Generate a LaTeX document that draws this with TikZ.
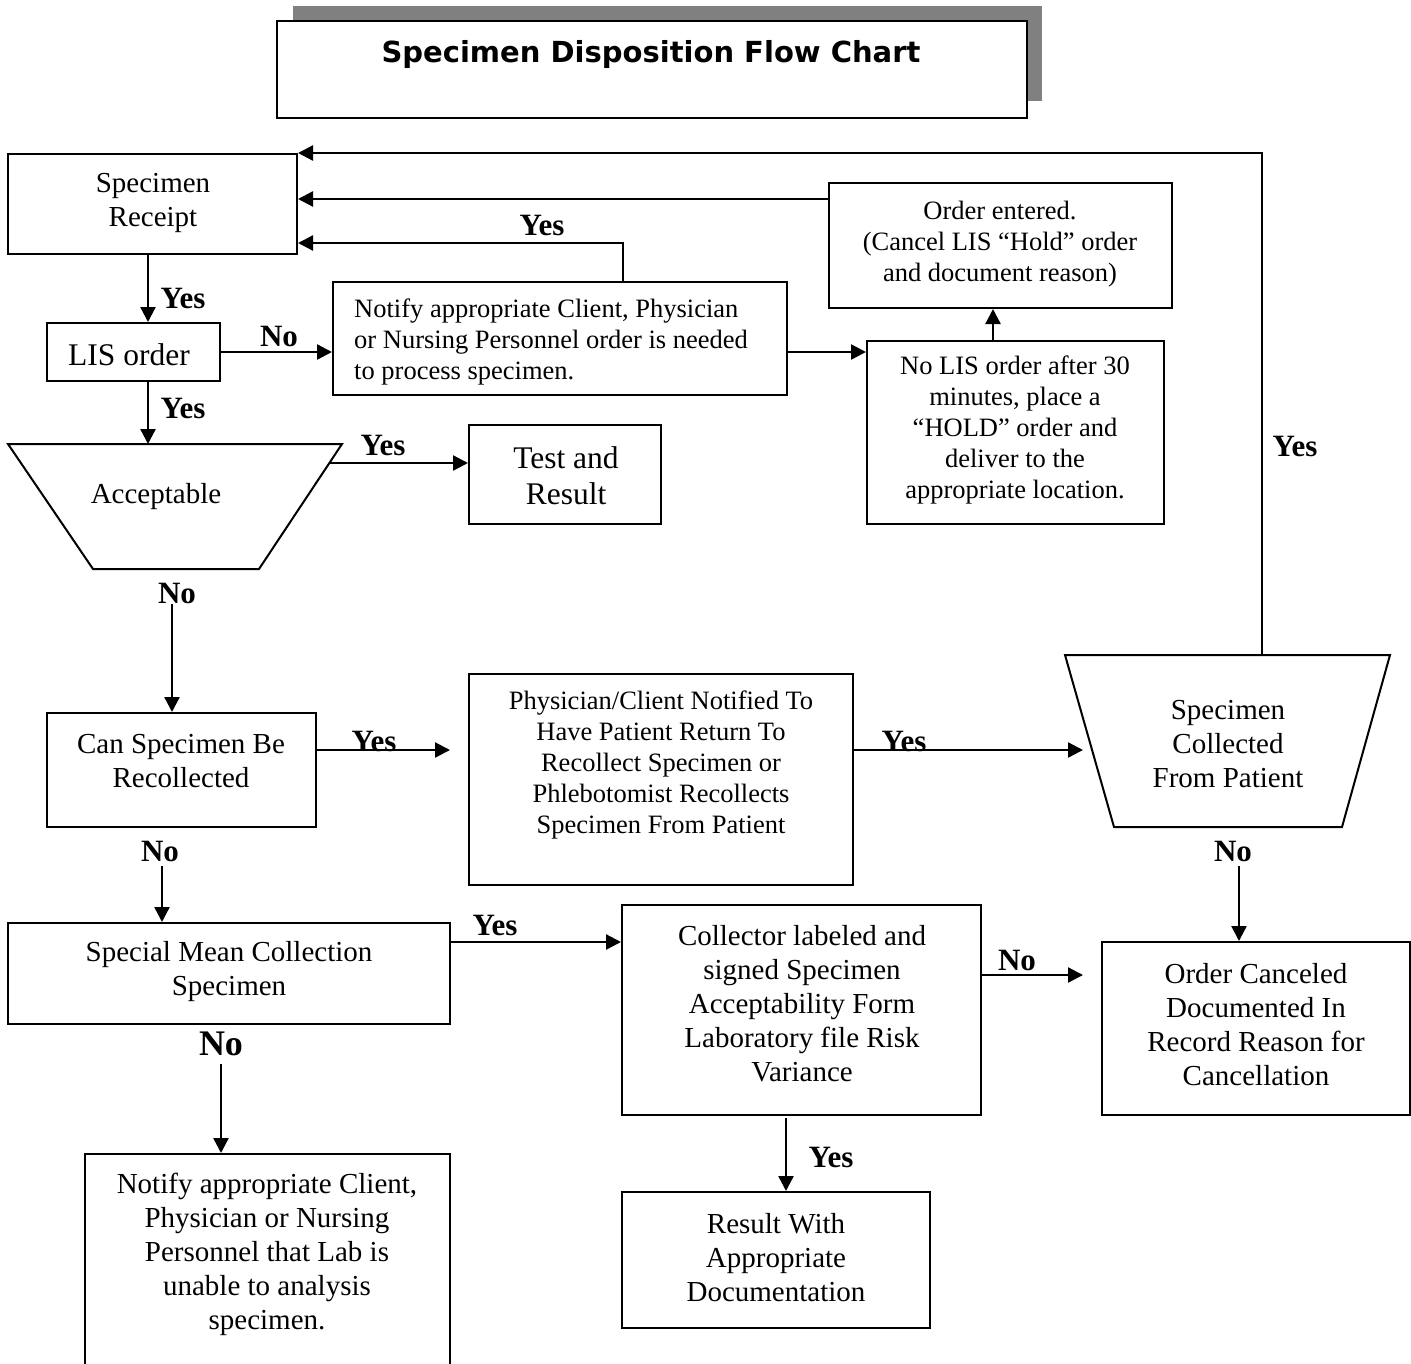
\documentclass[tikz,border=0pt]{standalone}
\usepackage{fontspec}
\setmainfont{Liberation Serif}
\newfontfamily\titlefam{DejaVu Sans}
\usetikzlibrary{arrows.meta}
\newcommand\fszA{\fontsize{26.5}{31}\selectfont}
\newcommand\fszB{\fontsize{29}{34}\selectfont}
\newcommand\fszC{\fontsize{31.5}{36}\selectfont}
\newcommand\fszL{\fontsize{31}{36}\selectfont}
\newcommand\fszLL{\fontsize{36}{40}\selectfont}
\definecolor{shadowgray}{RGB}{128,128,128}
\begin{document}
\begin{tikzpicture}[x=1pt,y=-1pt,
  box/.style={draw, line width=2pt, inner sep=0pt},
  txt/.style={inner sep=0pt, align=center, font=\fszB, yshift=-3pt},
  conn/.style={line width=2.3pt, -{Triangle[length=15pt,width=15pt]}},
  lbl/.style={inner sep=0pt, font=\fszL\bfseries},
  trap/.style={draw, line width=2pt, line join=miter}]
\useasboundingbox (0,0) rectangle (1411,1363);
% helper coordinates
\coordinate (x148) at (148,0);
\coordinate (x172) at (172,0);
\coordinate (x162) at (162,0);
\coordinate (x221) at (221,0);
\coordinate (x623) at (623,0);
\coordinate (x786) at (786,0);
\coordinate (x993) at (993,0);
\coordinate (x1239) at (1239,0);
\coordinate (y199) at (0,199);
\coordinate (y243) at (0,243);
\coordinate (y352) at (0,352);
\coordinate (y750) at (0,750);
\coordinate (y942) at (0,942);
\coordinate (y975) at (0,975);

% title
\fill[shadowgray] (293,6) rectangle (1042,101);
\node[box, fill=white, minimum width=750, minimum height=97] (title) at (652,69.5) {};
\node[inner sep=0pt, font=\titlefam\bfseries\fontsize{29}{34}\selectfont] (title-t) at (651,54) {Specimen Disposition Flow Chart};

% boxes
\node[box, minimum width=289, minimum height=100] (rec) at (152.5,204) {};
\node[txt] (rec-t) at (153,200) {Specimen\\Receipt};

\node[box, minimum width=173, minimum height=58] (lis) at (133.5,352) {};
\node[txt, font=\fszC] (lis-t) at (129,352) {LIS order};

\node[box, minimum width=454, minimum height=113] (ntf) at (560,338.5) {};
\node[txt, font=\fszA, align=left, anchor=west] (ntf-t) at (354,339) {Notify appropriate Client, Physician\\or Nursing Personnel order is needed\\to process specimen.};

\node[box, minimum width=297, minimum height=183] (nol) at (1015.5,432.5) {};
\node[txt, font=\fszA] (nol-t) at (1015,427) {No LIS order after 30\\minutes, place a\\``HOLD'' order and\\deliver to the\\appropriate location.};

\node[box, minimum width=343, minimum height=125] (ord) at (1000.5,245.5) {};
\node[txt, font=\fszA] (ord-t) at (1000,241) {Order entered.\\(Cancel LIS ``Hold'' order\\and document reason)};

\node[box, minimum width=192, minimum height=99] (tr) at (565,474.5) {};
\node[txt, font=\fszC] (tr-t) at (566,473) {Test and\\Result};

% Acceptable trapezoid
\coordinate (acc-tl) at (8,444);
\coordinate (acc-tr) at (342,444);
\coordinate (acc-br) at (259,569);
\coordinate (acc-bl) at (93,569);
\coordinate (acc-r) at (329.4,463);
\draw[trap] (acc-tl) -- (acc-tr) -- (acc-br) -- (acc-bl) -- cycle;
\node[txt] (acc) at (156,494) {Acceptable};

\node[box, minimum width=269, minimum height=114] (can) at (181.5,770) {};
\node[txt] (can-t) at (181,758) {Can Specimen Be\\Recollected};

\node[box, minimum width=384, minimum height=211] (phy) at (661,779.5) {};
\node[txt, font=\fszA] (phy-t) at (661,762) {Physician/Client Notified To\\Have Patient Return To\\Recollect Specimen or\\Phlebotomist Recollects\\Specimen From Patient};

% Specimen Collected trapezoid
\coordinate (col-tl) at (1065,655);
\coordinate (col-tr) at (1390,655);
\coordinate (col-br) at (1342,827);
\coordinate (col-bl) at (1114,827);
\coordinate (colltop) at (1262,655);
\draw[trap] (col-tl) -- (col-tr) -- (col-br) -- (col-bl) -- cycle;
\node[txt] (coll) at (1228,741) {Specimen\\Collected\\From Patient};

\node[box, minimum width=308, minimum height=173] (oc) at (1256,1028.5) {};
\node[txt] (oc-t) at (1256,1022) {Order Canceled\\Documented In\\Record Reason for\\Cancellation};

\node[box, minimum width=442, minimum height=101] (sp) at (229,973.5) {};
\node[txt] (sp-t) at (229,969) {Special Mean Collection\\Specimen};

\node[box, minimum width=359, minimum height=210] (col) at (801.5,1010) {};
\node[txt] (col-t) at (802,1001) {Collector labeled and\\signed Specimen\\Acceptability Form\\Laboratory file Risk\\Variance};

\node[box, minimum width=308, minimum height=136] (res) at (776,1260) {};
\node[txt] (res-t) at (776,1255) {Result With\\Appropriate\\Documentation};

\node[box, minimum width=365, minimum height=240] (nu) at (267.5,1274) {};
\node[txt] (nu-t) at (267,1251) {Notify appropriate Client,\\Physician or Nursing\\Personnel that Lab is\\unable to analysis\\specimen.};

% connectors
\draw[conn] (colltop) |- (rec.north east);
\draw[conn] (ord.west |- y199) -- (rec.east |- y199);
\draw[conn] (ntf.north -| x623) |- (rec.east |- y243);
\draw[conn] (rec.south -| x148) -- (lis.north -| x148);
\draw[conn] (lis.east) -- (lis.east -| ntf.west);
\draw[conn] (ntf.east |- y352) -- (nol.west |- y352);
\draw[conn] (nol.north -| x993) -- (ord.south -| x993);
\draw[conn] (lis.south -| x148) -- (acc-tl -| x148);
\draw[conn] (acc-r) -- (acc-r -| tr.west);
\coordinate (accno) at (172,604);
\draw[conn] (accno) -- (can.north -| x172);
\coordinate (canend) at (450,750);
\draw[conn] (can.east |- y750) -- (canend);
\coordinate (phyend) at (1083,750);
\draw[conn] (phy.east |- y750) -- (phyend);
\coordinate (collno) at (1239,866);
\draw[conn] (collno) -- (oc.north -| x1239);
\coordinate (canno) at (162,866);
\draw[conn] (canno) -- (sp.north -| x162);
\draw[conn] (sp.east |- y942) -- (col.west |- y942);
\coordinate (colend) at (1083,975);
\draw[conn] (col.east |- y975) -- (colend);
\coordinate (colbot) at (786,1118);
\draw[conn] (colbot) -- (res.north -| x786);
\coordinate (spno) at (221,1064);
\draw[conn] (spno) -- (nu.north -| x221);

% labels
\node[lbl] (l1) at (542,225) {Yes};
\node[lbl] (l2) at (183,298) {Yes};
\node[lbl] (l3) at (279,336) {No};
\node[lbl] (l4) at (183,408) {Yes};
\node[lbl] (l5) at (383,445) {Yes};
\node[lbl] (l6) at (177,593) {No};
\node[lbl] (l7) at (374,741) {Yes};
\node[lbl] (l8) at (904,741) {Yes};
\node[lbl] (l9) at (1295,446) {Yes};
\node[lbl] (l10) at (1233,851) {No};
\node[lbl] (l11) at (160,851) {No};
\node[lbl] (l12) at (495,925) {Yes};
\node[lbl] (l13) at (1017,960) {No};
\node[lbl] (l14) at (831,1157) {Yes};
\node[lbl, font=\fszLL\bfseries] (l15) at (221,1044) {No};
\end{tikzpicture}
\end{document}
